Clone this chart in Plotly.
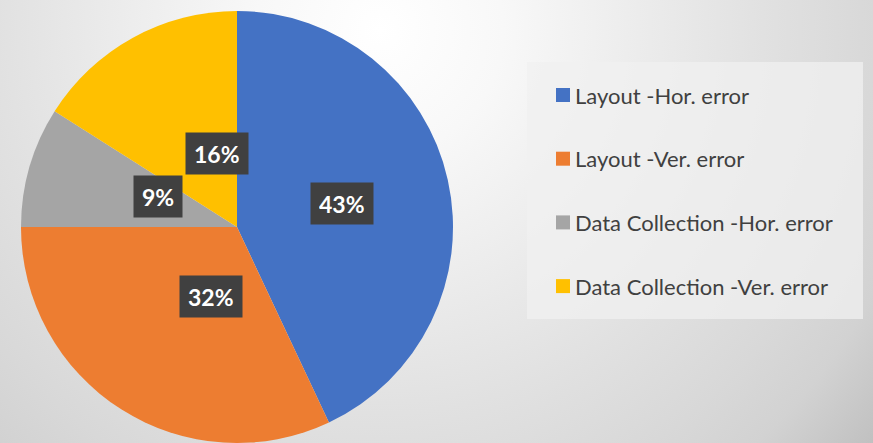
import base64
import math

import plotly.graph_objects as go

labels = ["Layout -Hor. error", "Layout -Ver. error",
          "Data Collection -Hor. error", "Data Collection -Ver. error"]
values = [43, 32, 9, 16]
colors = ["#4472C4", "#ED7D31", "#A5A5A5", "#FFC000"]

W, H = 873, 443
# pie geometry in pixels (center from top-left)
cx, cy, r = 237, 227, 216

# radial grey background like the office chart area
svg = f"""<svg xmlns='http://www.w3.org/2000/svg' width='{W}' height='{H}'>
<defs><radialGradient id='g' gradientUnits='userSpaceOnUse' cx='380' cy='30' r='650'>
<stop offset='0' stop-color='#ffffff'/><stop offset='0.19' stop-color='#f8f8f8'/>
<stop offset='0.59' stop-color='#e1e1e1'/><stop offset='0.76' stop-color='#d8d8d8'/>
<stop offset='0.86' stop-color='#d2d2d2'/><stop offset='1' stop-color='#bfbfbf'/>
</radialGradient></defs><rect width='{W}' height='{H}' fill='url(#g)'/></svg>"""
bg_src = "data:image/svg+xml;base64," + base64.b64encode(svg.encode()).decode()

fig = go.Figure(go.Pie(
    labels=labels,
    values=values,
    sort=False,
    direction="clockwise",
    rotation=0,
    marker=dict(colors=colors, line=dict(width=0)),
    textinfo="none",
    hoverinfo="label+percent",
    showlegend=False,
    domain=dict(x=[(cx - r) / W, (cx + r) / W],
                y=[(H - cy - r) / H, (H - cy + r) / H]),
))

# percentage labels in dark boxes, placed at half radius on each slice's mid-angle
total = sum(values)
cum = 0
for v in values:
    theta = 2 * math.pi * (cum + v / 2) / total
    cum += v
    px = cx + 0.5 * r * math.sin(theta)
    py = cy - 0.5 * r * math.cos(theta)
    fig.add_annotation(
        x=px / W, y=1 - py / H, xref="paper", yref="paper",
        text=f"<b>{round(100 * v / total)}%</b>",
        showarrow=False,
        font=dict(family="Lato, Open Sans, sans-serif", size=23, color="white"),
        bgcolor="#404040", borderpad=8, height=25,
    )

# legend box drawn by hand so the row spacing matches
lx0, lx1, ly0, ly1 = 527, 863, 62, 319
fig.add_shape(type="rect", xref="paper", yref="paper",
              x0=lx0 / W, x1=lx1 / W, y0=1 - ly1 / H, y1=1 - ly0 / H,
              fillcolor="rgba(240,240,240,0.75)", line=dict(width=0), layer="below")
row0, gap = 95, 63.7
for i, (lab, col) in enumerate(zip(labels, colors)):
    yy = row0 + i * gap
    fig.add_shape(type="rect", xref="paper", yref="paper",
                  x0=556 / W, x1=570 / W, y0=1 - (yy + 7) / H, y1=1 - (yy - 7) / H,
                  fillcolor=col, line=dict(width=0))
    fig.add_annotation(x=573 / W, y=1 - yy / H, xref="paper", yref="paper",
                       text=lab, showarrow=False, xanchor="left", yanchor="middle",
                       font=dict(family="Lato, Open Sans, sans-serif", size=22, color="#404040"))

fig.update_layout(
    width=W, height=H,
    margin=dict(l=0, r=0, t=0, b=0),
    paper_bgcolor="#dedede",
    images=[dict(source=bg_src, xref="paper", yref="paper", x=0, y=1,
                 sizex=1, sizey=1, sizing="stretch", layer="below")],
)

fig.write_html("out.html", config={"displayModeBar": False},
               post_script="document.body.style.margin='0';")
